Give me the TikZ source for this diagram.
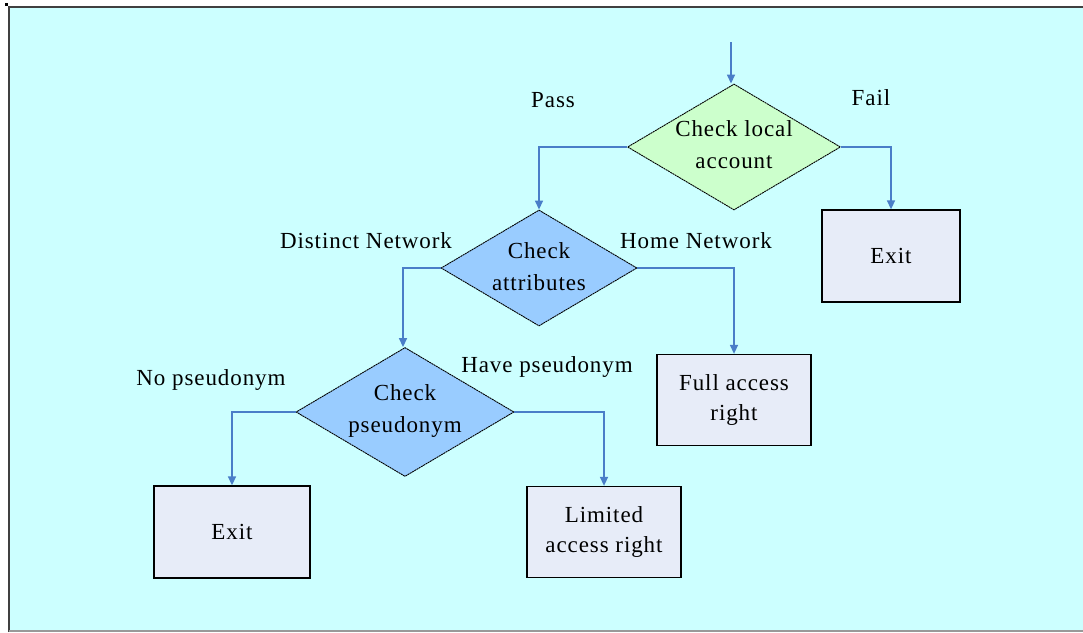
\documentclass[tikz,border=0pt]{standalone}
\usepackage{fontspec}
\setmainfont{Liberation Serif}[LetterSpace=4]
\usetikzlibrary{shapes.geometric,arrows.meta}
\definecolor{bgcyan}{RGB}{204,255,255}
\definecolor{dgreen}{RGB}{204,255,204}
\definecolor{dblue}{RGB}{153,204,255}
\definecolor{boxfill}{RGB}{231,236,248}
\definecolor{conn}{RGB}{74,126,200}
\tikzset{
  lbl/.style={font=\fontsize{23}{26}\selectfont, inner sep=0pt},
  decision/.style={diamond, draw=black, line width=0.9pt, dash pattern=on 2pt off 0.6pt, inner sep=0pt},
  dtext/.style={align=center, inner sep=0pt, font=\fontsize{23}{32}\selectfont},
  procbox/.style={rectangle, draw=black, line width=1.3pt, fill=boxfill, align=center, inner sep=0pt,
    font=\fontsize{23}{30}\selectfont},
  connector/.style={draw=conn, line width=1.5pt, -{Triangle[length=9pt,width=8pt]}}
}
\begin{document}
\begin{tikzpicture}[x=1pt,y=-1pt]
\useasboundingbox (0,0) rectangle (1083,632);
\fill[bgcyan] (9,7) rectangle (1083,631);
\draw[line width=2pt, black!75] (9,632) -- (9,7) -- (1083,7);
\draw[line width=1.5pt, black!40] (9,631) -- (1083,631);
\fill[black] (5,3) rectangle (8,6);

\node[decision, fill=dgreen, minimum width=213pt, minimum height=126pt] (d1) at (734,147) {};
\node[dtext] (t1) at (734,145) {Check local\\account};
\node[decision, fill=dblue, minimum width=196pt, minimum height=116pt] (d2) at (539,268) {};
\node[dtext] (t2) at (539,267) {Check\\attributes};
\node[decision, fill=dblue, minimum width=218pt, minimum height=129pt] (d3) at (405,412) {};
\node[dtext] (t3) at (405,411) {Check\\pseudonym};

\node[procbox, minimum width=138pt, minimum height=92pt] (exit1) at (891,256) {Exit};
\node[procbox, minimum width=154pt, minimum height=91pt] (full) at (734,400) {Full access\\right};
\node[procbox, minimum width=156pt, minimum height=92pt] (exit2) at (232,532) {Exit};
\node[procbox, minimum width=154pt, minimum height=91pt] (lim) at (604,532) {Limited\\access right};

\node[lbl] (pass) at (553,100) {Pass};
\node[lbl] (fail) at (871,98) {Fail};
\node[lbl] (dn) at (366,241) {Distinct Network};
\node[lbl] (hn) at (696,241) {Home Network};
\node[lbl] (np) at (211,380) {No pseudonym};
\node[lbl] (hp) at (547,367) {Have pseudonym};

\coordinate (start) at (731,42);
\draw[connector] (start) -- (d1.north -| start);
\draw[connector] (d1.west) -| (d2.north);
\draw[connector] (d1.east) -| (exit1.north);
\draw[connector] (d2.west) -| ([xshift=-2pt]d3.north);
\draw[connector] (d2.east) -| (full.north);
\draw[connector] (d3.west) -| (exit2.north);
\draw[connector] (d3.east) -| (lim.north);
\end{tikzpicture}
\end{document}
